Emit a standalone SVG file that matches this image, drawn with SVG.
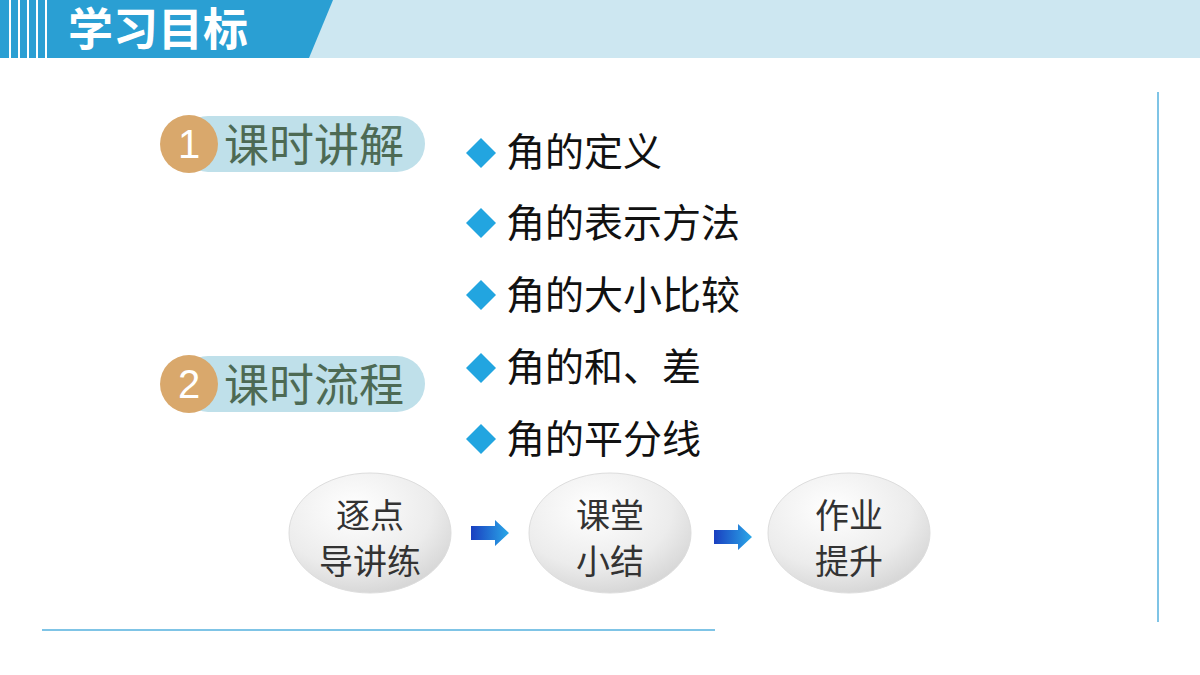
<svg xmlns="http://www.w3.org/2000/svg" width="1200" height="675" viewBox="0 0 1200 675">
<defs>
<style>
.cjk{font-family:"Noto Sans CJK SC","Noto Sans",sans-serif}
.item{font-size:39px;fill:#111}
.oval{font-size:34px;fill:#333}
.hd{font-size:45px;fill:#4d6a54}
</style>
<radialGradient id="og" cx="0.4" cy="0.3" r="0.8">
<stop offset="0" stop-color="#ffffff"/><stop offset="0.6" stop-color="#ececec"/><stop offset="1" stop-color="#cfcfcf"/>
</radialGradient>
<linearGradient id="ag" x1="0" x2="1"><stop offset="0" stop-color="#1a3fc0"/><stop offset="1" stop-color="#2aa8e8"/></linearGradient>
<path id="arr" d="M0,-7 H24 V-13 L38,0 L24,13 V7 H0 Z"/>
</defs>
<rect width="1200" height="675" fill="#fff"/>
<rect x="0" y="0" width="1200" height="58" fill="#cde7f1"/>
<path d="M0,0 H333 L309,58 H0 Z" fill="#2a9fd3"/>
<g stroke="#fff" stroke-width="2"><line x1="10" y1="0" x2="10" y2="58"/><line x1="19" y1="0" x2="19" y2="58"/><line x1="28" y1="0" x2="28" y2="58"/><line x1="37" y1="0" x2="37" y2="58"/><line x1="46" y1="0" x2="46" y2="58"/></g>
<text x="68" y="46" class="cjk" font-size="45" font-weight="bold" fill="#fff">学习目标</text>
<line x1="1158" y1="92" x2="1158" y2="622" stroke="#7fc4e6" stroke-width="2"/>
<line x1="42" y1="630" x2="715" y2="630" stroke="#7fc4e6" stroke-width="2"/>
<g id="h1"><rect x="180" y="116" width="245" height="56" rx="28" fill="#bfe0ea"/><circle cx="189" cy="144" r="29" fill="#d9a86c"/><text x="189" y="158" text-anchor="middle" font-family="Liberation Sans,sans-serif" font-size="40" fill="#fff">1</text><text x="224" y="162" class="cjk hd">课时讲解</text></g>
<g id="h2"><rect x="180" y="356" width="245" height="56" rx="28" fill="#bfe0ea"/><circle cx="189" cy="384" r="29" fill="#d9a86c"/><text x="189" y="398" text-anchor="middle" font-family="Liberation Sans,sans-serif" font-size="40" fill="#fff">2</text><text x="224" y="402" class="cjk hd">课时流程</text></g>
<g id="items" fill="#22a5e0">
<path d="M481,138 l15,15 l-15,15 l-15,-15 Z"/><text x="506" y="166" class="cjk item">角的定义</text>
<path d="M481,208 l15,15 l-15,15 l-15,-15 Z"/><text x="506" y="237" class="cjk item">角的表示方法</text>
<path d="M481,280 l15,15 l-15,15 l-15,-15 Z"/><text x="506" y="309" class="cjk item">角的大小比较</text>
<path d="M481,353 l15,15 l-15,15 l-15,-15 Z"/><text x="506" y="381" class="cjk item">角的和、差</text>
<path d="M481,424 l15,15 l-15,15 l-15,-15 Z"/><text x="506" y="453" class="cjk item">角的平分线</text>
</g>
<g id="n1"><ellipse cx="370" cy="533" rx="81" ry="60" fill="url(#og)" stroke="#ddd"/><text x="370" y="528" text-anchor="middle" class="cjk oval">逐点</text><text x="370" y="574" text-anchor="middle" class="cjk oval">导讲练</text></g>
<g id="n2"><ellipse cx="610" cy="533" rx="81" ry="60" fill="url(#og)" stroke="#ddd"/><text x="610" y="528" text-anchor="middle" class="cjk oval">课堂</text><text x="610" y="574" text-anchor="middle" class="cjk oval">小结</text></g>
<g id="n3"><ellipse cx="849" cy="533" rx="81" ry="60" fill="url(#og)" stroke="#ddd"/><text x="849" y="528" text-anchor="middle" class="cjk oval">作业</text><text x="849" y="574" text-anchor="middle" class="cjk oval">提升</text></g>
<g id="connectors" fill="url(#ag)">
<use href="#arr" x="471" y="533"/>
<use href="#arr" x="714" y="537"/>
</g>
</svg>
